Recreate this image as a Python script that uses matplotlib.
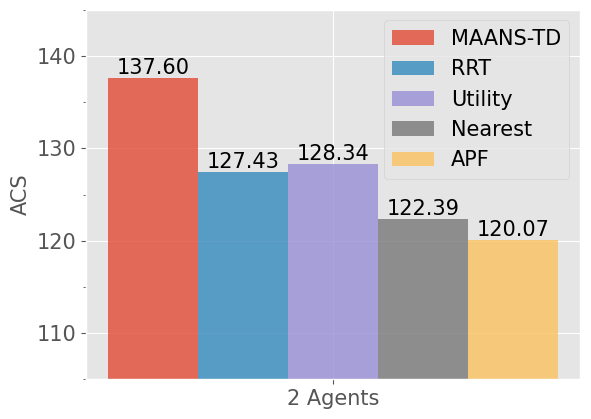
import matplotlib
matplotlib.use("Agg")
import matplotlib.pyplot as plt
import numpy as np

plt.style.use("ggplot")

methods = ["MAANS-TD", "RRT", "Utility", "Nearest", "APF"]
values = [137.60, 127.43, 128.34, 122.39, 120.07]
colors = ["#E24A33", "#348ABD", "#988ED5", "#777777", "#FBC15E"]
group = "2 Agents"

fig, ax = plt.subplots(figsize=(5.91, 4.19), dpi=100)
width = 0.18
offsets = (np.arange(len(methods)) - 2) * width
for off, v, c, m in zip(offsets, values, colors, methods):
    ax.bar(off, v, width, color=c, alpha=0.8, label=m)
    ax.text(off, v, "%.2f" % v, ha="center", va="bottom", fontsize=15)

ax.set_xlim(-0.494, 0.494)
ax.set_ylim(105, 145)
ax.set_xticks([0])
ax.set_xticklabels([group], fontsize=15)
ax.set_yticks([110, 120, 130, 140])
ax.set_yticks([105, 115, 125, 135, 145], minor=True)
ax.tick_params(axis="y", labelsize=15)
ax.set_ylabel("ACS", fontsize=15)
ax.legend(loc="upper right", fontsize=15)
plt.subplots_adjust(left=0.146, right=0.981, bottom=0.095, top=0.976)
plt.savefig("out.png", dpi=100)
